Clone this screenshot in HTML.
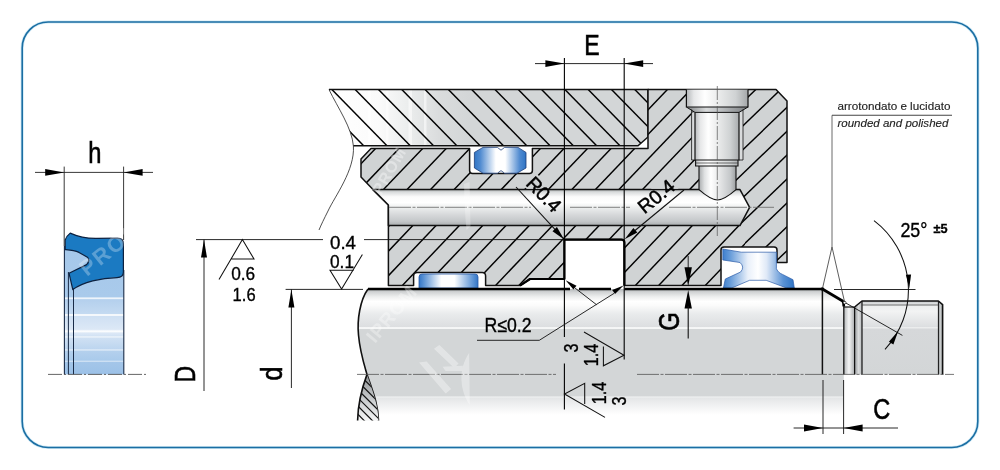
<!DOCTYPE html>
<html lang="it">
<head>
<meta charset="utf-8">
<title>Sede di montaggio - Housing drawing</title>
<style>
html,body{margin:0;padding:0;background:#fff;}
body{width:1000px;height:470px;overflow:hidden;}
svg{display:block;will-change:transform;}
text{font-family:"Liberation Sans",sans-serif;stroke:#000;stroke-width:0.35px;}
text.lbl{stroke-width:0.12px;stroke:#222}
.wm text{stroke:none;}
</style>
</head>
<body>
<svg width="1000" height="470" viewBox="0 0 1000 470">
<defs>


<linearGradient id="gTube" gradientUnits="userSpaceOnUse" x1="329" y1="0" x2="470" y2="0">
  <stop offset="0" stop-color="#ffffff"/><stop offset="0.35" stop-color="#fbfbfb"/><stop offset="0.55" stop-color="#eceeee"/><stop offset="0.78" stop-color="#dadcdd"/><stop offset="1" stop-color="#d3d6d7"/>
</linearGradient>
<linearGradient id="gBore" gradientUnits="userSpaceOnUse" x1="0" y1="189.6" x2="0" y2="225.6">
  <stop offset="0" stop-color="#b4b7b9"/><stop offset="0.08" stop-color="#dcdedf"/><stop offset="0.2" stop-color="#fbfbfb"/><stop offset="0.36" stop-color="#ffffff"/>
  <stop offset="0.5" stop-color="#eceeee"/><stop offset="0.7" stop-color="#d6d8da"/><stop offset="0.88" stop-color="#c4c7c9"/><stop offset="1" stop-color="#a9adaf"/>
</linearGradient>
<linearGradient id="gRod" gradientUnits="userSpaceOnUse" x1="0" y1="289" x2="0" y2="420">
  <stop offset="0" stop-color="#b4b7b9"/><stop offset="0.025" stop-color="#d2d4d5"/><stop offset="0.06" stop-color="#eeefef"/><stop offset="0.095" stop-color="#ffffff"/>
  <stop offset="0.125" stop-color="#fbfbfb"/><stop offset="0.19" stop-color="#e9ebec"/><stop offset="0.29" stop-color="#dcdee0"/>
  <stop offset="0.294" stop-color="#f5f6f6"/><stop offset="0.303" stop-color="#f5f6f6"/><stop offset="0.309" stop-color="#d3d6d7"/>
  <stop offset="0.818" stop-color="#d3d6d7"/><stop offset="0.823" stop-color="#f3f4f4"/><stop offset="0.832" stop-color="#e4e6e7"/>
  <stop offset="0.96" stop-color="#ffffff"/><stop offset="1" stop-color="#ffffff"/>
</linearGradient>
<linearGradient id="gThread" gradientUnits="userSpaceOnUse" x1="0" y1="301" x2="0" y2="375">
  <stop offset="0" stop-color="#c4c7c9"/><stop offset="0.06" stop-color="#eceeee"/><stop offset="0.14" stop-color="#f2f3f3"/><stop offset="0.35" stop-color="#dcdee0"/>
  <stop offset="0.36" stop-color="#eff0f0"/><stop offset="0.38" stop-color="#d6d8da"/><stop offset="1" stop-color="#d3d6d7"/>
</linearGradient>
<linearGradient id="gUnder" gradientUnits="userSpaceOnUse" x1="844" y1="0" x2="855" y2="0">
  <stop offset="0" stop-color="#b4b7b9"/><stop offset="0.45" stop-color="#f4f5f5"/><stop offset="1" stop-color="#a4a7a9"/>
</linearGradient>
<linearGradient id="gShould" gradientUnits="userSpaceOnUse" x1="855" y1="0" x2="862" y2="0">
  <stop offset="0" stop-color="#9da0a2"/><stop offset="0.5" stop-color="#d9dbdc"/><stop offset="1" stop-color="#b9bcbe"/>
</linearGradient>
<linearGradient id="gThrEnd" gradientUnits="userSpaceOnUse" x1="938" y1="0" x2="943" y2="0">
  <stop offset="0" stop-color="#8f9294"/><stop offset="0.5" stop-color="#c9cccd"/><stop offset="1" stop-color="#a9acae"/>
</linearGradient>
<linearGradient id="gPort" gradientUnits="userSpaceOnUse" x1="695" y1="0" x2="739" y2="0">
  <stop offset="0" stop-color="#b9bcbe"/><stop offset="0.12" stop-color="#e6e7e8"/><stop offset="0.3" stop-color="#ffffff"/><stop offset="0.5" stop-color="#eceded"/>
  <stop offset="0.8" stop-color="#cfd2d3"/><stop offset="1" stop-color="#a9acae"/>
</linearGradient>
<linearGradient id="gPortCB" gradientUnits="userSpaceOnUse" x1="686.4" y1="0" x2="748" y2="0">
  <stop offset="0" stop-color="#b4b7b9"/><stop offset="0.12" stop-color="#e6e7e8"/><stop offset="0.3" stop-color="#ffffff"/><stop offset="0.5" stop-color="#eceded"/>
  <stop offset="0.8" stop-color="#cfd2d3"/><stop offset="1" stop-color="#a4a7a9"/>
</linearGradient>
<linearGradient id="gPortTaper" gradientUnits="userSpaceOnUse" x1="690" y1="0" x2="744" y2="0">
  <stop offset="0" stop-color="#8f9294"/><stop offset="0.3" stop-color="#d9dbdc"/><stop offset="0.5" stop-color="#c4c7c9"/><stop offset="1" stop-color="#84878a"/>
</linearGradient>
<linearGradient id="gPortN" gradientUnits="userSpaceOnUse" x1="699" y1="0" x2="736" y2="0">
  <stop offset="0" stop-color="#a9acae"/><stop offset="0.15" stop-color="#dfe1e2"/><stop offset="0.32" stop-color="#ffffff"/><stop offset="0.55" stop-color="#e6e7e8"/>
  <stop offset="0.85" stop-color="#c4c7c9"/><stop offset="1" stop-color="#9da0a2"/>
</linearGradient>
<linearGradient id="gOring" gradientUnits="userSpaceOnUse" x1="474" y1="0" x2="526" y2="0">
  <stop offset="0" stop-color="#2f74c4"/><stop offset="0.12" stop-color="#4f8ad0"/><stop offset="0.42" stop-color="#ffffff"/><stop offset="0.6" stop-color="#ffffff"/>
  <stop offset="0.88" stop-color="#4f8ad0"/><stop offset="1" stop-color="#2f74c4"/>
</linearGradient>
<linearGradient id="gGuide" gradientUnits="userSpaceOnUse" x1="419" y1="0" x2="478" y2="0">
  <stop offset="0" stop-color="#3476c6"/><stop offset="0.08" stop-color="#5a92d4"/><stop offset="0.38" stop-color="#ffffff"/><stop offset="0.6" stop-color="#ffffff"/>
  <stop offset="0.92" stop-color="#5a92d4"/><stop offset="1" stop-color="#3476c6"/>
</linearGradient>
<linearGradient id="gWiper" gradientUnits="userSpaceOnUse" x1="722" y1="0" x2="794" y2="0">
  <stop offset="0" stop-color="#3a7ccc"/><stop offset="0.12" stop-color="#6a9eda"/><stop offset="0.36" stop-color="#e9f0fa"/><stop offset="0.5" stop-color="#ffffff"/>
  <stop offset="0.62" stop-color="#dfe9f7"/><stop offset="0.85" stop-color="#5a92d4"/><stop offset="1" stop-color="#2f74c4"/>
</linearGradient>
<linearGradient id="gSealBody" gradientUnits="userSpaceOnUse" x1="0" y1="250" x2="0" y2="374">
  <stop offset="0" stop-color="#a6c8ea"/><stop offset="0.38" stop-color="#a9caeb"/>
  <stop offset="0.385" stop-color="#eef4fb"/><stop offset="0.395" stop-color="#eef4fb"/><stop offset="0.40" stop-color="#b4d0ed"/>
  <stop offset="0.515" stop-color="#c4daf1"/>
  <stop offset="0.52" stop-color="#f4f8fc"/><stop offset="0.53" stop-color="#f4f8fc"/><stop offset="0.535" stop-color="#cfe0f3"/>
  <stop offset="0.64" stop-color="#dce8f6"/><stop offset="0.655" stop-color="#ffffff"/><stop offset="0.67" stop-color="#dce8f6"/>
  <stop offset="0.695" stop-color="#d2e2f4"/><stop offset="0.70" stop-color="#f8fbfd"/><stop offset="0.71" stop-color="#cfe0f3"/>
  <stop offset="0.80" stop-color="#bcd5ef"/><stop offset="0.805" stop-color="#f1f6fb"/><stop offset="0.815" stop-color="#b4d0ed"/>
  <stop offset="0.89" stop-color="#a9caeb"/><stop offset="0.895" stop-color="#eaf2fa"/><stop offset="0.905" stop-color="#a4c6e9"/>
  <stop offset="1" stop-color="#9cc1e7"/>
</linearGradient>
<linearGradient id="gLeaf" gradientUnits="userSpaceOnUse" x1="0" y1="375" x2="0" y2="420">
  <stop offset="0" stop-color="#8f9294"/><stop offset="0.5" stop-color="#c4c7c9"/><stop offset="1" stop-color="#f4f5f5"/>
</linearGradient>

<clipPath id="cTube"><path d="M329,89.6 L648,89.6 L648,137 L638,145.8 L353.4,145.8 C352,128 338,108 329,89.6 Z"/></clipPath>
<clipPath id="cGland"><path d="M371,148.4 L469.6,148.4 L469.6,170.6 Q469.6,173.6 472.6,173.6 L529.4,173.6 Q532.4,173.6 532.4,170.6 L532.4,148.4 L648,148.4 L648,89.6 L776,89.6 L787,101 L787,262.4 L777,262.4 L777,250 Q777,247 774,247 L724,247 Q721,247 721,250 L721,285.6 L624.4,285.6 L624.4,242.6 Q624.4,239.6 621.4,239.6 L564.4,239.6 L564.4,279 L530,279 L520,285.6 L485.6,285.6 L485.6,275.9 Q485.6,272.4 482.1,272.4 L417.1,272.4 Q413.6,272.4 413.6,275.9 L413.6,285.6 L388.4,285.6 L388.4,205 L373,189.6 L361,177 L361,159 Z"/></clipPath>
<clipPath id="cRod"><path d="M368,289 L822.4,289 L842.4,301 Q843.8,302.5 843.8,306 L843.8,420 L378.5,420 C378,404 373,392 367,374.4 C364,364 360,352 358.5,335 C357,320 360,300 368,289 Z"/></clipPath>
</defs>
<rect x="0" y="0" width="1000" height="470" fill="#ffffff"/>
<rect x="22.2" y="22" width="955.6" height="425.5" rx="26" ry="26" fill="none" stroke="#bfe3f2" stroke-width="3.2" opacity="0.7"/>
<rect x="22.2" y="22" width="955.6" height="425.5" rx="26" ry="26" fill="none" stroke="#1b6ea3" stroke-width="1.6"/>
<g id="seal-detail">
<rect x="64.4" y="246" width="59.4" height="128.4" fill="url(#gSealBody)"/>
<line x1="64.4" y1="246.0" x2="64.4" y2="374.4" stroke="#1a2c48" stroke-width="1.1" />
<line x1="123.8" y1="270.0" x2="123.8" y2="374.4" stroke="#1a2c48" stroke-width="1.1" />
<line x1="68.4" y1="272.0" x2="68.4" y2="374.4" stroke="#1a2c48" stroke-width="1" />
<line x1="73.5" y1="288.0" x2="73.5" y2="374.4" stroke="#1a2c48" stroke-width="1" />
<path d="M70.2,233.1 C80,237.6 88,238.6 97,238.4 L117.5,238.2 Q123.4,238.2 123.4,244 L123.4,272 Q123.4,277.4 117,277.6 C101,278 83,282 72.8,289.6 L69,273.2 L86.6,264.6 Q90.6,260.6 87.4,257.2 L79,252.4 C74,250.4 69,250 65.2,249.6 L65.2,240 Q66,236.4 70.2,233.1 Z" fill="#1b7ac2" stroke="#0c2140" stroke-width="1.2" stroke-linejoin="round"/>
<line x1="48.0" y1="374.4" x2="148.0" y2="374.4" stroke="#555" stroke-width="0.9" stroke-dasharray="14 2 2 2"/>
<line x1="64.2" y1="166.6" x2="64.2" y2="246.0" stroke="#222" stroke-width="0.9" />
<line x1="123.6" y1="166.6" x2="123.6" y2="240.0" stroke="#222" stroke-width="0.9" />
<line x1="35.0" y1="172.4" x2="153.0" y2="172.4" stroke="#222" stroke-width="0.9" />
<polygon points="64.2,172.4 45.2,175.8 45.2,169.0" fill="#000"/>
<polygon points="123.6,172.4 142.6,169.0 142.6,175.8" fill="#000"/>
<text x="94.8" y="163.4" font-size="29.5" text-anchor="middle" font-weight="normal" font-style="normal" fill="#000" textLength="13.2" lengthAdjust="spacingAndGlyphs" style="stroke-width:0.6px">h</text>
</g>
<g id="main">
<path d="M329,89.6 L648,89.6 L648,137 L638,145.8 L353.4,145.8 C352,128 338,108 329,89.6 Z" fill="url(#gTube)"/>
<g fill="#ffffff" opacity="0.55" clip-path="url(#cTube)">
<rect x="368" y="89" width="3" height="58"/><rect x="386" y="89" width="2.5" height="58"/><rect x="408.5" y="89" width="3.5" height="58"/><rect x="424" y="89" width="2.5" height="58"/>
</g>
<g clip-path="url(#cTube)" stroke="#111" stroke-width="1">
<line x1="252.1" y1="79.4" x2="327.1" y2="156.0" stroke="#000" stroke-width="1.45" />
<line x1="275.4" y1="79.4" x2="350.4" y2="156.0" stroke="#000" stroke-width="1.45" />
<line x1="298.7" y1="79.4" x2="373.7" y2="156.0" stroke="#000" stroke-width="1.45" />
<line x1="322.0" y1="79.4" x2="397.0" y2="156.0" stroke="#000" stroke-width="1.45" />
<line x1="345.3" y1="79.4" x2="420.3" y2="156.0" stroke="#000" stroke-width="1.45" />
<line x1="368.6" y1="79.4" x2="443.6" y2="156.0" stroke="#000" stroke-width="1.45" />
<line x1="391.9" y1="79.4" x2="466.9" y2="156.0" stroke="#000" stroke-width="1.45" />
<line x1="415.2" y1="79.4" x2="490.2" y2="156.0" stroke="#000" stroke-width="1.45" />
<line x1="438.5" y1="79.4" x2="513.5" y2="156.0" stroke="#000" stroke-width="1.45" />
<line x1="461.8" y1="79.4" x2="536.8" y2="156.0" stroke="#000" stroke-width="1.45" />
<line x1="485.1" y1="79.4" x2="560.1" y2="156.0" stroke="#000" stroke-width="1.45" />
<line x1="508.4" y1="79.4" x2="583.4" y2="156.0" stroke="#000" stroke-width="1.45" />
<line x1="531.7" y1="79.4" x2="606.7" y2="156.0" stroke="#000" stroke-width="1.45" />
<line x1="555.0" y1="79.4" x2="630.0" y2="156.0" stroke="#000" stroke-width="1.45" />
<line x1="578.3" y1="79.4" x2="653.3" y2="156.0" stroke="#000" stroke-width="1.45" />
<line x1="601.6" y1="79.4" x2="676.6" y2="156.0" stroke="#000" stroke-width="1.45" />
<line x1="624.9" y1="79.4" x2="699.9" y2="156.0" stroke="#000" stroke-width="1.45" />
<line x1="648.2" y1="79.4" x2="723.2" y2="156.0" stroke="#000" stroke-width="1.45" />
<line x1="671.5" y1="79.4" x2="746.5" y2="156.0" stroke="#000" stroke-width="1.45" />
</g>
<path d="M329,89.6 L648,89.6 L648,137 L638,145.8 L353.4,145.8" fill="none" stroke="#111" stroke-width="1.5"/>
<path d="M371,148.4 L469.6,148.4 L469.6,170.6 Q469.6,173.6 472.6,173.6 L529.4,173.6 Q532.4,173.6 532.4,170.6 L532.4,148.4 L648,148.4 L648,89.6 L776,89.6 L787,101 L787,262.4 L777,262.4 L777,250 Q777,247 774,247 L724,247 Q721,247 721,250 L721,285.6 L624.4,285.6 L624.4,242.6 Q624.4,239.6 621.4,239.6 L564.4,239.6 L564.4,279 L530,279 L520,285.6 L485.6,285.6 L485.6,275.9 Q485.6,272.4 482.1,272.4 L417.1,272.4 Q413.6,272.4 413.6,275.9 L413.6,285.6 L388.4,285.6 L388.4,205 L373,189.6 L361,177 L361,159 Z" fill="#d0d3d4"/>
<g clip-path="url(#cGland)">
<clipPath id="cA"><rect x="355" y="85" width="362" height="140.6"/></clipPath>
<clipPath id="cB"><path d="M717,85 L792,85 L792,270 L745,270 L745,225.6 L717,225.6 Z"/></clipPath>
<clipPath id="cC"><rect x="380" y="225.6" width="365" height="65"/></clipPath>
<g clip-path="url(#cA)">
<line x1="250.6" y1="230.0" x2="393.9" y2="80.0" stroke="#000" stroke-width="1.45" />
<line x1="274.2" y1="230.0" x2="417.4" y2="80.0" stroke="#000" stroke-width="1.45" />
<line x1="297.7" y1="230.0" x2="441.0" y2="80.0" stroke="#000" stroke-width="1.45" />
<line x1="321.3" y1="230.0" x2="464.5" y2="80.0" stroke="#000" stroke-width="1.45" />
<line x1="344.8" y1="230.0" x2="488.1" y2="80.0" stroke="#000" stroke-width="1.45" />
<line x1="368.4" y1="230.0" x2="511.6" y2="80.0" stroke="#000" stroke-width="1.45" />
<line x1="391.9" y1="230.0" x2="535.2" y2="80.0" stroke="#000" stroke-width="1.45" />
<line x1="415.5" y1="230.0" x2="558.7" y2="80.0" stroke="#000" stroke-width="1.45" />
<line x1="439.0" y1="230.0" x2="582.3" y2="80.0" stroke="#000" stroke-width="1.45" />
<line x1="462.6" y1="230.0" x2="605.8" y2="80.0" stroke="#000" stroke-width="1.45" />
<line x1="486.1" y1="230.0" x2="629.4" y2="80.0" stroke="#000" stroke-width="1.45" />
<line x1="509.7" y1="230.0" x2="652.9" y2="80.0" stroke="#000" stroke-width="1.45" />
<line x1="533.2" y1="230.0" x2="676.5" y2="80.0" stroke="#000" stroke-width="1.45" />
<line x1="556.8" y1="230.0" x2="700.0" y2="80.0" stroke="#000" stroke-width="1.45" />
<line x1="580.3" y1="230.0" x2="723.6" y2="80.0" stroke="#000" stroke-width="1.45" />
<line x1="603.9" y1="230.0" x2="747.1" y2="80.0" stroke="#000" stroke-width="1.45" />
<line x1="627.4" y1="230.0" x2="770.7" y2="80.0" stroke="#000" stroke-width="1.45" />
<line x1="651.0" y1="230.0" x2="794.2" y2="80.0" stroke="#000" stroke-width="1.45" />
<line x1="674.5" y1="230.0" x2="817.8" y2="80.0" stroke="#000" stroke-width="1.45" />
<line x1="698.1" y1="230.0" x2="841.3" y2="80.0" stroke="#000" stroke-width="1.45" />
<line x1="721.6" y1="230.0" x2="864.9" y2="80.0" stroke="#000" stroke-width="1.45" />
<line x1="745.2" y1="230.0" x2="888.4" y2="80.0" stroke="#000" stroke-width="1.45" />
<line x1="768.7" y1="230.0" x2="912.0" y2="80.0" stroke="#000" stroke-width="1.45" />
<line x1="792.3" y1="230.0" x2="935.5" y2="80.0" stroke="#000" stroke-width="1.45" />
<line x1="815.8" y1="230.0" x2="959.1" y2="80.0" stroke="#000" stroke-width="1.45" />
<line x1="839.4" y1="230.0" x2="982.6" y2="80.0" stroke="#000" stroke-width="1.45" />
</g>
<g clip-path="url(#cB)">
<line x1="487.2" y1="300.0" x2="736.8" y2="60.0" stroke="#000" stroke-width="1.45" />
<line x1="512.0" y1="300.0" x2="761.6" y2="60.0" stroke="#000" stroke-width="1.45" />
<line x1="536.9" y1="300.0" x2="786.5" y2="60.0" stroke="#000" stroke-width="1.45" />
<line x1="561.7" y1="300.0" x2="811.3" y2="60.0" stroke="#000" stroke-width="1.45" />
<line x1="586.6" y1="300.0" x2="836.2" y2="60.0" stroke="#000" stroke-width="1.45" />
<line x1="611.4" y1="300.0" x2="861.0" y2="60.0" stroke="#000" stroke-width="1.45" />
<line x1="636.3" y1="300.0" x2="885.9" y2="60.0" stroke="#000" stroke-width="1.45" />
<line x1="661.2" y1="300.0" x2="910.8" y2="60.0" stroke="#000" stroke-width="1.45" />
<line x1="686.0" y1="300.0" x2="935.6" y2="60.0" stroke="#000" stroke-width="1.45" />
<line x1="710.9" y1="300.0" x2="960.5" y2="60.0" stroke="#000" stroke-width="1.45" />
<line x1="735.7" y1="300.0" x2="985.3" y2="60.0" stroke="#000" stroke-width="1.45" />
<line x1="760.6" y1="300.0" x2="1010.2" y2="60.0" stroke="#000" stroke-width="1.45" />
<line x1="785.4" y1="300.0" x2="1035.0" y2="60.0" stroke="#000" stroke-width="1.45" />
<line x1="810.3" y1="300.0" x2="1059.9" y2="60.0" stroke="#000" stroke-width="1.45" />
<line x1="835.2" y1="300.0" x2="1084.8" y2="60.0" stroke="#000" stroke-width="1.45" />
<line x1="860.0" y1="300.0" x2="1109.6" y2="60.0" stroke="#000" stroke-width="1.45" />
</g>
<g clip-path="url(#cC)">
<line x1="272.1" y1="300.0" x2="348.1" y2="220.0" stroke="#000" stroke-width="1.45" />
<line x1="295.4" y1="300.0" x2="371.4" y2="220.0" stroke="#000" stroke-width="1.45" />
<line x1="318.7" y1="300.0" x2="394.7" y2="220.0" stroke="#000" stroke-width="1.45" />
<line x1="342.0" y1="300.0" x2="418.0" y2="220.0" stroke="#000" stroke-width="1.45" />
<line x1="365.3" y1="300.0" x2="441.3" y2="220.0" stroke="#000" stroke-width="1.45" />
<line x1="388.6" y1="300.0" x2="464.6" y2="220.0" stroke="#000" stroke-width="1.45" />
<line x1="411.9" y1="300.0" x2="487.9" y2="220.0" stroke="#000" stroke-width="1.45" />
<line x1="435.2" y1="300.0" x2="511.2" y2="220.0" stroke="#000" stroke-width="1.45" />
<line x1="458.5" y1="300.0" x2="534.5" y2="220.0" stroke="#000" stroke-width="1.45" />
<line x1="481.8" y1="300.0" x2="557.8" y2="220.0" stroke="#000" stroke-width="1.45" />
<line x1="505.1" y1="300.0" x2="581.1" y2="220.0" stroke="#000" stroke-width="1.45" />
<line x1="528.4" y1="300.0" x2="604.4" y2="220.0" stroke="#000" stroke-width="1.45" />
<line x1="551.7" y1="300.0" x2="627.7" y2="220.0" stroke="#000" stroke-width="1.45" />
<line x1="575.0" y1="300.0" x2="651.0" y2="220.0" stroke="#000" stroke-width="1.45" />
<line x1="598.3" y1="300.0" x2="674.3" y2="220.0" stroke="#000" stroke-width="1.45" />
<line x1="621.6" y1="300.0" x2="697.6" y2="220.0" stroke="#000" stroke-width="1.45" />
<line x1="644.9" y1="300.0" x2="720.9" y2="220.0" stroke="#000" stroke-width="1.45" />
<line x1="668.2" y1="300.0" x2="744.2" y2="220.0" stroke="#000" stroke-width="1.45" />
<line x1="691.5" y1="300.0" x2="767.5" y2="220.0" stroke="#000" stroke-width="1.45" />
<line x1="714.8" y1="300.0" x2="790.8" y2="220.0" stroke="#000" stroke-width="1.45" />
<line x1="738.1" y1="300.0" x2="814.1" y2="220.0" stroke="#000" stroke-width="1.45" />
<line x1="761.4" y1="300.0" x2="837.4" y2="220.0" stroke="#000" stroke-width="1.45" />
<line x1="784.7" y1="300.0" x2="860.7" y2="220.0" stroke="#000" stroke-width="1.45" />
<line x1="808.0" y1="300.0" x2="884.0" y2="220.0" stroke="#000" stroke-width="1.45" />
<line x1="831.3" y1="300.0" x2="907.3" y2="220.0" stroke="#000" stroke-width="1.45" />
</g>
</g>
<path d="M371,148.4 L469.6,148.4 L469.6,170.6 Q469.6,173.6 472.6,173.6 L529.4,173.6 Q532.4,173.6 532.4,170.6 L532.4,148.4 L648,148.4 L648,89.6 L776,89.6 L787,101 L787,262.4 L777,262.4 L777,250 Q777,247 774,247 L724,247 Q721,247 721,250 L721,285.6 L624.4,285.6 L624.4,242.6 Q624.4,239.6 621.4,239.6 L564.4,239.6 L564.4,279 L530,279 L520,285.6 L485.6,285.6 L485.6,275.9 Q485.6,272.4 482.1,272.4 L417.1,272.4 Q413.6,272.4 413.6,275.9 L413.6,285.6 L388.4,285.6 L388.4,205 L373,189.6 L361,177 L361,159 Z" fill="none" stroke="#111" stroke-width="1.5" stroke-linejoin="round"/>
<path d="M373,189.6 L740,189.6 L749.6,207.3 L740,225.6 L388.4,225.6 L388.4,205 Z" fill="url(#gBore)" stroke="#111" stroke-width="1.5" stroke-linejoin="round"/>
<rect x="686.4" y="89.6" width="61.6" height="17.4" fill="url(#gPortCB)"/>
<path d="M686.4,107 L748,107 L739,112.4 L695,112.4 Z" fill="url(#gPortTaper)"/>
<rect x="691.6" y="112.4" width="51.4" height="47.6" fill="#d9dbdc"/>
<rect x="695" y="112.4" width="44" height="47.6" fill="url(#gPort)"/>
<rect x="695.6" y="160" width="42.4" height="6" fill="url(#gPort)"/>
<path d="M699,166 L736,166 L736,189.6 C731,194 724,199.6 717.5,200 C711,199.6 704,194 699,189.6 Z" fill="url(#gPortN)"/>
<path d="M686.4,89.6 L686.4,107 L748,107 L748,89.6" fill="none" stroke="#111" stroke-width="1.2"/>
<path d="M686.4,107 L695,112.4 L739,112.4 L748,107" fill="none" stroke="#111" stroke-width="1"/>
<path d="M695,112.4 L695,160 L739,160 L739,112.4" fill="none" stroke="#111" stroke-width="1.2"/>
<path d="M691.6,109.5 L691.6,160 L695,160 M743,109.5 L743,160 L739,160" fill="none" stroke="#111" stroke-width="0.8"/>
<path d="M695.6,160 L695.6,166 L738,166 L738,160" fill="none" stroke="#111" stroke-width="1.1"/>
<line x1="695.6" y1="163.0" x2="738.0" y2="163.0" stroke="#333" stroke-width="0.7" />
<path d="M699,166 L699,189.6 C704,194 711,199.6 717.5,200 C724,199.6 731,194 736,189.6 L736,166" fill="none" stroke="#111" stroke-width="1.1"/>
<line x1="717.3" y1="86.0" x2="717.3" y2="236.0" stroke="#555" stroke-width="0.7" stroke-dasharray="14 2 2 2"/>
<line x1="389.0" y1="207.3" x2="531.0" y2="207.3" stroke="#666" stroke-width="0.8" stroke-dasharray="22 1.5 3 1.5"/>
<line x1="570.0" y1="207.3" x2="630.0" y2="207.3" stroke="#666" stroke-width="0.8" stroke-dasharray="22 1.5 3 1.5"/>
<line x1="669.0" y1="207.3" x2="774.0" y2="207.3" stroke="#666" stroke-width="0.8" stroke-dasharray="22 1.5 3 1.5"/>
<path d="M474.4,152.4 L483,147.4 L497.4,147.4 L501,150.2 L504.6,147.4 L518,147.4 L526,152.4 L526,168 L517,173.2 L504.6,173.2 L501,170.6 L497.4,173.2 L483,173.2 L474.4,168 Z" fill="url(#gOring)" stroke="#1d3d78" stroke-width="0.8" stroke-linejoin="round"/>
<path d="M419,277 Q419,274 422,274 L475,274 Q478,274 478,277 L478,288 L419,288 Z" fill="url(#gGuide)" stroke="#2a5aa8" stroke-width="0.8"/>
<path d="M722.8,249 L741.3,252.2 L776.4,252.2 L776.4,268.8 C778,272 780,273.4 782.5,274.4 L793,279.7 L794.3,288 L786.6,288 L766.2,280.3 L749.6,280.3 L731.7,288 L723.4,288 L725.3,279 L740.6,272 Q745,267 740,262.5 L722.8,260 Z" fill="url(#gWiper)" stroke="#2a5aa8" stroke-width="0.7" stroke-linejoin="round"/>
<path d="M368,289 L822.4,289 L842.4,301 Q843.8,302.5 843.8,306 L843.8,420 L378.5,420 C378,404 373,392 367,374.4 C364,364 360,352 358.5,335 C357,320 360,300 368,289 Z" fill="url(#gRod)"/>
<path d="M843.8,307 L854.6,307 L854.6,374.4 L843.8,374.4 Z" fill="url(#gUnder)"/>
<path d="M854.6,307 L862,301 L862,374.4 L854.6,374.4 Z" fill="url(#gShould)"/>
<path d="M862,301 L938.4,301 L942.6,304.6 L942.6,374.4 L862,374.4 Z" fill="url(#gThread)"/>
<path d="M938.4,301 L942.6,304.6 L942.6,374.4 L938.4,374.4 Z" fill="url(#gThrEnd)"/>
<path d="M368,289 C360,300 357,320 358.5,335 C360,352 364,364 367,374.4 C373,392 378,404 378.5,420.4" fill="none" stroke="#111" stroke-width="1.6"/>
<path d="M367,374.4 C362,388 358,402 357.6,420.4 L378.5,420.4 C378,404 373,392 367,374.4 Z" fill="url(#gLeaf)"/>
<clipPath id="cLeaf"><path d="M367,374.4 C362,388 358,402 357.6,420.4 L378.5,420.4 C378,404 373,392 367,374.4 Z"/></clipPath>
<g clip-path="url(#cLeaf)">
<line x1="350.0" y1="365.4" x2="390.0" y2="405.4" stroke="#111" stroke-width="1.2" />
<line x1="350.0" y1="373.6" x2="390.0" y2="413.6" stroke="#111" stroke-width="1.2" />
<line x1="350.0" y1="381.8" x2="390.0" y2="421.8" stroke="#111" stroke-width="1.2" />
<line x1="350.0" y1="390.0" x2="390.0" y2="430.0" stroke="#111" stroke-width="1.2" />
<line x1="350.0" y1="398.2" x2="390.0" y2="438.2" stroke="#111" stroke-width="1.2" />
<line x1="350.0" y1="406.4" x2="390.0" y2="446.4" stroke="#111" stroke-width="1.2" />
<line x1="350.0" y1="414.6" x2="390.0" y2="454.6" stroke="#111" stroke-width="1.2" />
<line x1="350.0" y1="422.8" x2="390.0" y2="462.8" stroke="#111" stroke-width="1.2" />
</g>
<path d="M367,374.4 C362,388 358,402 357.6,420.4" fill="none" stroke="#111" stroke-width="1.6"/>
<path d="M368,289 L570,289 M579,289 L611,289 M624.4,289 L822.4,289 L842.6,301 Q843.8,302.6 843.8,306.6" fill="none" stroke="#000" stroke-width="2.7" stroke-linejoin="round"/>
<line x1="822.4" y1="289.0" x2="822.4" y2="374.4" stroke="#111" stroke-width="1.5" />
<line x1="843.8" y1="306.0" x2="843.8" y2="374.4" stroke="#111" stroke-width="1.3" />
<line x1="843.8" y1="307.0" x2="854.6" y2="307.0" stroke="#111" stroke-width="1.2" />
<line x1="854.6" y1="307.0" x2="854.6" y2="374.4" stroke="#111" stroke-width="1.2" />
<path d="M854.6,307 L862,301 L938.4,301 L942.6,304.6 L942.6,374.4" fill="none" stroke="#111" stroke-width="1.6" stroke-linejoin="round"/>
<line x1="862.0" y1="301.0" x2="862.0" y2="374.4" stroke="#111" stroke-width="1.2" />
<line x1="938.4" y1="301.0" x2="938.4" y2="374.4" stroke="#111" stroke-width="1.0" />
<line x1="862.0" y1="305.0" x2="938.4" y2="305.0" stroke="#333" stroke-width="0.7" />
<line x1="357.0" y1="374.4" x2="556.0" y2="374.4" stroke="#555" stroke-width="0.8" stroke-dasharray="22 1.5 3 1.5"/>
<line x1="637.0" y1="374.4" x2="954.0" y2="374.4" stroke="#555" stroke-width="0.8" stroke-dasharray="22 1.5 3 1.5"/>
<path d="M520,285.6 L530,279 L564.4,279 L564.4,239.6 L621.4,239.6 Q624.4,239.6 624.4,242.6 L624.4,285.6" fill="none" stroke="#000" stroke-width="2.2" stroke-linejoin="round"/>
</g>
<g fill="#ffffff" opacity="0.36">
<polygon points="419.1,362.6 426.6,361.5 451.1,389.1 445.7,393.4"/>
<polygon points="434,348.7 439.4,345.1 458.5,363.6 454.3,367.9"/>
<path d="M469.1,353 L469.8,405.1 C465,398 462,390 461.5,380 C461,370 463.8,361 469.1,353 Z"/>
<polygon points="442.6,366.8 462.8,365.7 462.8,371.1 445.6,371.1"/>
<path d="M464,184 L469.5,182 L470.5,226 L466.5,230 C465,215 464.5,200 464,184 Z" opacity="0.7"/>
</g>
<g class="wm" fill="#ffffff" stroke="none" font-weight="bold">
<text class="lbl" font-size="22" opacity="0.28" transform="translate(87,277) rotate(-39)" letter-spacing="2">PROM</text>
<text class="lbl" font-size="16" opacity="0.38" transform="translate(381,196) rotate(-60)" letter-spacing="1">PROM</text>
<text class="lbl" font-size="19" opacity="0.32" transform="translate(375,344) rotate(-50)" letter-spacing="1">IPROM</text>
</g>
<g id="dims">
<line x1="564.4" y1="58.0" x2="564.4" y2="337.0" stroke="#000" stroke-width="1.1" />
<line x1="564.4" y1="363.6" x2="564.4" y2="409.4" stroke="#000" stroke-width="1.1" />
<line x1="624.2" y1="58.0" x2="624.2" y2="359.4" stroke="#000" stroke-width="1.1" />
<line x1="535.0" y1="63.6" x2="653.0" y2="63.6" stroke="#111" stroke-width="0.9" />
<polygon points="564.4,63.6 545.4,67.0 545.4,60.2" fill="#000"/>
<polygon points="624.2,63.6 643.2,60.2 643.2,67.0" fill="#000"/>
<text x="592.0" y="54.8" font-size="29.5" text-anchor="middle" font-weight="normal" font-style="normal" fill="#000" textLength="15.4" lengthAdjust="spacingAndGlyphs" style="stroke-width:0.6px">E</text>
<clipPath id="cUp"><rect x="355" y="85" width="340" height="103.8"/></clipPath>
<g clip-path="url(#cUp)"><rect x="-2" y="-16" width="15" height="18" fill="#d0d3d4" transform="translate(525,184.5) rotate(46)"/>
<rect x="13" y="-16" width="30" height="17" fill="#d0d3d4" transform="translate(644.5,214.5) rotate(-39)"/></g>
<line x1="516.0" y1="187.0" x2="557.0" y2="231.6" stroke="#111" stroke-width="1.1" />
<polygon points="564.2,239.4 552.5,231.2 556.9,227.1" fill="#000"/>
<text font-size="19.5" style="stroke-width:0.5px" transform="translate(525,184.5) rotate(46)" textLength="40.5" lengthAdjust="spacingAndGlyphs">R0.4</text>
<line x1="632.0" y1="233.0" x2="684.0" y2="190.0" stroke="#111" stroke-width="1.1" />
<polygon points="624.6,239.2 633.4,227.9 637.3,232.5" fill="#000"/>
<text font-size="19.5" style="stroke-width:0.5px" transform="translate(644.5,214.5) rotate(-39)" textLength="41" lengthAdjust="spacingAndGlyphs">R0.4</text>
<line x1="196.0" y1="239.6" x2="323.0" y2="239.6" stroke="#111" stroke-width="0.9" />
<line x1="364.0" y1="239.6" x2="564.0" y2="239.6" stroke="#111" stroke-width="0.9" />
<line x1="204.0" y1="239.6" x2="204.0" y2="391.0" stroke="#111" stroke-width="0.9" />
<polygon points="204.0,239.6 207.0,257.6 201.0,257.6" fill="#000"/>
<text x="195.4" y="374.3" font-size="29.5" text-anchor="middle" font-weight="normal" font-style="normal" fill="#000" textLength="16.6" lengthAdjust="spacingAndGlyphs" transform="rotate(-90 195.4 374.3)" style="stroke-width:0.6px">D</text>
<line x1="285.6" y1="289.4" x2="363.0" y2="289.4" stroke="#111" stroke-width="0.9" />
<line x1="291.4" y1="289.4" x2="291.4" y2="388.0" stroke="#111" stroke-width="0.9" />
<polygon points="291.4,289.4 294.4,307.4 288.4,307.4" fill="#000"/>
<text x="282.0" y="373.6" font-size="29.5" text-anchor="middle" font-weight="normal" font-style="normal" fill="#000" textLength="13.8" lengthAdjust="spacingAndGlyphs" transform="rotate(-90 282.0 373.6)" style="stroke-width:0.6px">d</text>
<path d="M219,279.6 L242.4,239.6 L254,259 L231.6,259" fill="none" stroke="#111" stroke-width="1.05"/>
<text x="231.2" y="280.0" font-size="19" text-anchor="start" font-weight="normal" font-style="normal" fill="#000" textLength="24" lengthAdjust="spacingAndGlyphs" >0.6</text>
<text x="232.6" y="301.0" font-size="19" text-anchor="start" font-weight="normal" font-style="normal" fill="#000" textLength="23" lengthAdjust="spacingAndGlyphs" >1.6</text>
<path d="M362.4,254.6 L341.6,289 L330,270.2 L353.8,270.2" fill="none" stroke="#111" stroke-width="1.05"/>
<text x="330.0" y="248.8" font-size="19" text-anchor="start" font-weight="normal" font-style="normal" fill="#000" textLength="26" lengthAdjust="spacingAndGlyphs" >0.4</text>
<text x="330.0" y="268.0" font-size="19" text-anchor="start" font-weight="normal" font-style="normal" fill="#000" textLength="24" lengthAdjust="spacingAndGlyphs" >0.1</text>
<path d="M329,89.6 C338,108 352,128 353.4,146 C355,170 335,196 328,211 C324,219 321,225 319,230" fill="none" stroke="#222" stroke-width="0.8"/>
<line x1="477.0" y1="340.3" x2="539.3" y2="340.3" stroke="#111" stroke-width="0.9" />
<line x1="539.3" y1="340.3" x2="614.0" y2="293.4" stroke="#111" stroke-width="0.9" />
<polygon points="623.6,285.4 615.0,294.1 612.2,290.0" fill="#000"/>
<line x1="596.5" y1="304.7" x2="575.0" y2="288.0" stroke="#111" stroke-width="0.9" />
<polygon points="565.6,280.2 576.5,285.7 573.4,289.6" fill="#000"/>
<text x="484.6" y="332.0" font-size="20" text-anchor="start" font-weight="normal" font-style="normal" fill="#000" textLength="47" lengthAdjust="spacingAndGlyphs" >R≤0.2</text>
<line x1="688.2" y1="256.0" x2="688.2" y2="268.0" stroke="#111" stroke-width="0.9" />
<polygon points="688.2,286.2 684.5,267.2 691.9,267.2" fill="#000"/>
<polygon points="688.2,290.0 691.9,308.5 684.5,308.5" fill="#000"/>
<line x1="688.2" y1="306.0" x2="688.2" y2="338.5" stroke="#111" stroke-width="1.1" />
<text x="678.8" y="321.4" font-size="29.5" text-anchor="middle" font-weight="normal" font-style="normal" fill="#000" textLength="18.6" lengthAdjust="spacingAndGlyphs" transform="rotate(-90 678.8 321.4)" style="stroke-width:0.6px">G</text>
<path d="M584,332 L624,355.2 L603.4,365.8 L603.4,346.4" fill="none" stroke="#111" stroke-width="1.05"/>
<text x="578.2" y="348.0" font-size="20" text-anchor="middle" font-weight="normal" font-style="normal" fill="#000" textLength="9" lengthAdjust="spacingAndGlyphs" transform="rotate(-90 578.2 348.0)" >3</text>
<text x="598.2" y="355.0" font-size="20" text-anchor="middle" font-weight="normal" font-style="normal" fill="#000" textLength="22.5" lengthAdjust="spacingAndGlyphs" transform="rotate(-90 598.2 355.0)" >1.4</text>
<path d="M605,417.4 L564.5,394 L584.7,383.4 L584.7,404" fill="none" stroke="#111" stroke-width="1.05"/>
<text x="606.0" y="393.0" font-size="20" text-anchor="middle" font-weight="normal" font-style="normal" fill="#000" textLength="22.5" lengthAdjust="spacingAndGlyphs" transform="rotate(-90 606.0 393.0)" >1.4</text>
<text x="626.0" y="401.0" font-size="20" text-anchor="middle" font-weight="normal" font-style="normal" fill="#000" textLength="9" lengthAdjust="spacingAndGlyphs" transform="rotate(-90 626.0 401.0)" >3</text>
<line x1="823.0" y1="380.0" x2="823.0" y2="434.0" stroke="#111" stroke-width="0.9" />
<line x1="843.6" y1="380.0" x2="843.6" y2="434.0" stroke="#111" stroke-width="0.9" />
<line x1="793.6" y1="428.0" x2="898.0" y2="428.0" stroke="#111" stroke-width="0.9" />
<polygon points="823.0,428.0 804.0,431.4 804.0,424.6" fill="#000"/>
<polygon points="843.6,428.0 862.6,424.6 862.6,431.4" fill="#000"/>
<text x="881.8" y="418.8" font-size="29.5" text-anchor="middle" font-weight="normal" font-style="normal" fill="#000" textLength="17" lengthAdjust="spacingAndGlyphs" style="stroke-width:0.6px">C</text>
<line x1="834.0" y1="289.5" x2="915.5" y2="289.5" stroke="#111" stroke-width="0.9" />
<line x1="843.0" y1="301.4" x2="902.4" y2="335.4" stroke="#111" stroke-width="0.9" />
<path d="M874,220.7 A87,87 0 0 1 885,349.4" fill="none" stroke="#111" stroke-width="1.05"/>
<polygon points="909.2,288.6 905.9,274.7 911.1,274.5" fill="#000"/>
<polygon points="898.2,331.0 893.4,344.4 888.9,341.8" fill="#000"/>
<text x="900.4" y="237.0" font-size="20" text-anchor="start" font-weight="normal" font-style="normal" fill="#000" textLength="27" lengthAdjust="spacingAndGlyphs" >25°</text>
<text x="933.6" y="233.4" font-size="12.5" text-anchor="start" font-weight="bold" font-style="normal" fill="#000" textLength="14" lengthAdjust="spacingAndGlyphs" >±5</text>
<circle cx="822.4" cy="289" r="1.8" fill="#000"/>
<circle cx="844.6" cy="302.6" r="1.4" fill="#fff" stroke="#111" stroke-width="0.7"/>
<line x1="832.0" y1="115.3" x2="952.0" y2="115.3" stroke="#444" stroke-width="1.1" />
<line x1="832.0" y1="115.3" x2="832.0" y2="247.0" stroke="#444" stroke-width="0.8" />
<line x1="832.0" y1="247.0" x2="822.6" y2="288.0" stroke="#333" stroke-width="0.8" />
<line x1="832.0" y1="247.0" x2="844.6" y2="302.0" stroke="#333" stroke-width="0.8" />
<text x="837.4" y="109.5" font-size="10.6" text-anchor="start" font-weight="normal" font-style="normal" fill="#222" textLength="113" lengthAdjust="spacingAndGlyphs" class="lbl">arrotondato e lucidato</text>
<text x="837.4" y="126.6" font-size="10.6" text-anchor="start" font-weight="normal" font-style="italic" fill="#222" textLength="111" lengthAdjust="spacingAndGlyphs" class="lbl">rounded and polished</text>
</g>
</svg>
</body>
</html>
